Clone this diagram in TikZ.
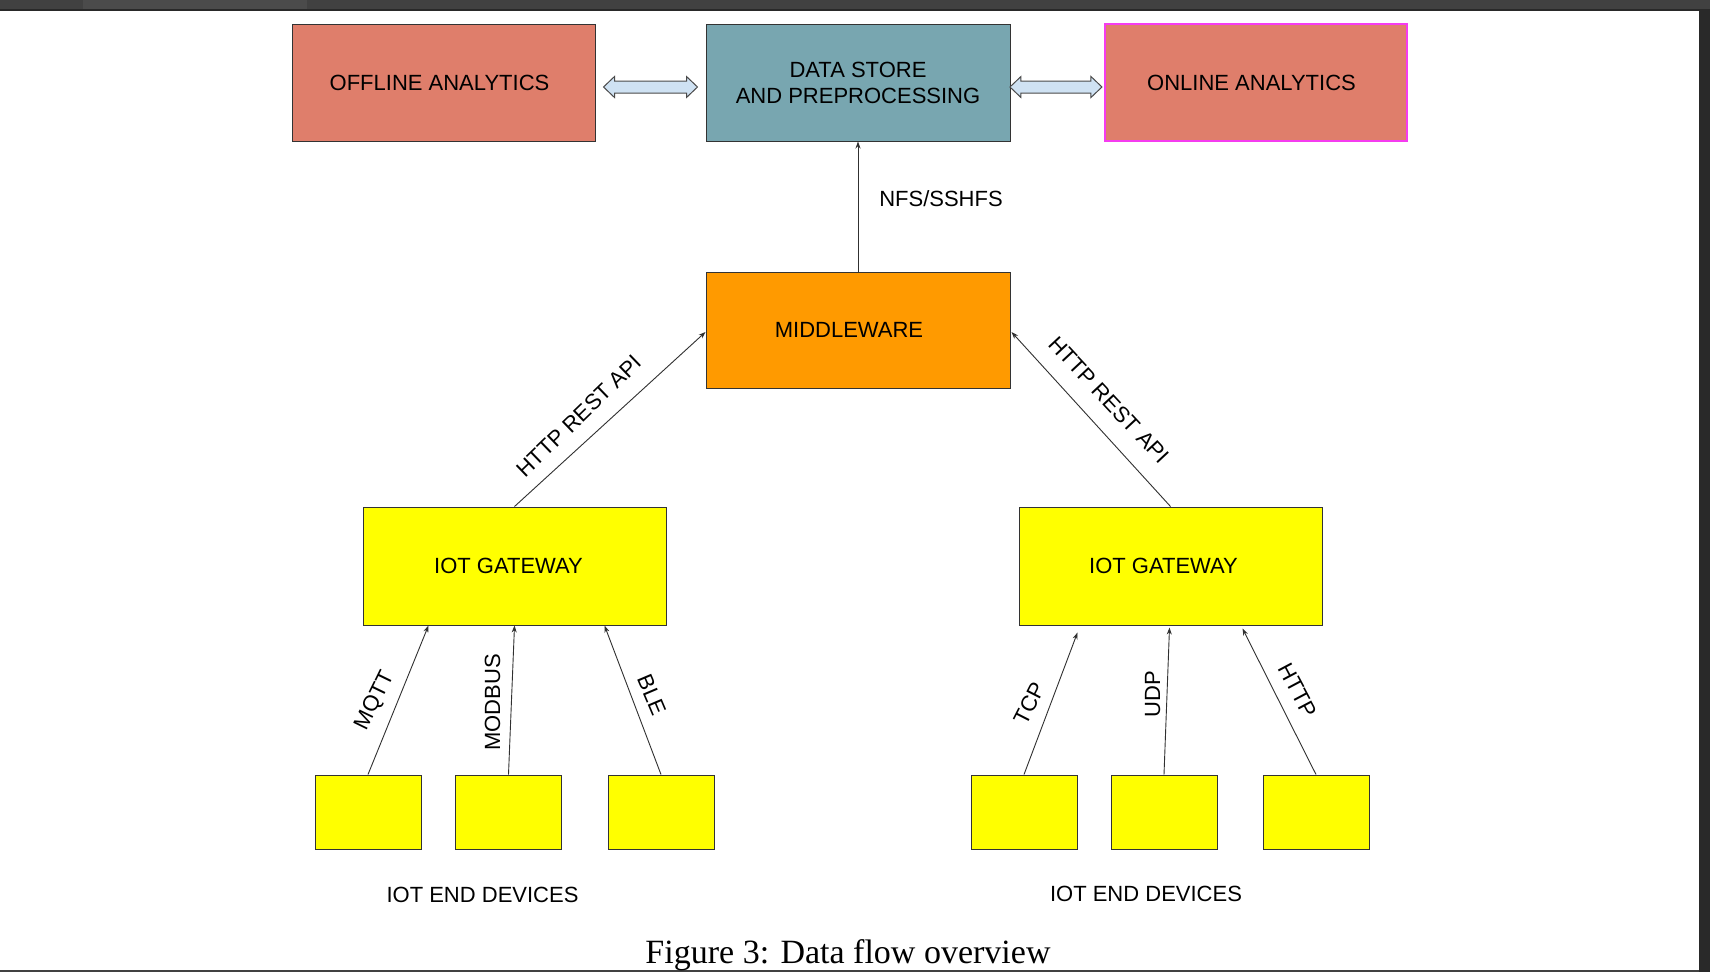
\documentclass[tikz,border=0pt]{standalone}
\usepackage{fontspec}
\setmainfont{Liberation Sans}
\newfontfamily\capfont{Liberation Serif}
\usetikzlibrary{arrows.meta,calc}
\definecolor{cSalmon}{HTML}{DF7E6B}
\definecolor{cStore}{HTML}{78A6B0}
\definecolor{cMid}{HTML}{FF9A00}
\definecolor{cYel}{HTML}{FFFF00}
\definecolor{cEdge}{HTML}{333333}
\definecolor{cMag}{HTML}{F53CF0}
\definecolor{cLine}{HTML}{303030}
\definecolor{cDbl}{HTML}{CFE2F3}
\definecolor{cDblEdge}{HTML}{4A4A4A}
\definecolor{cBand}{HTML}{414141}
\definecolor{cTab}{HTML}{4B4B4B}
\definecolor{cSide}{HTML}{292929}
\begin{document}
\begin{tikzpicture}[x=1pt,y=-1pt,
  box/.style={draw=cEdge, line width=1pt, minimum width=303pt, minimum height=117pt,
    inner sep=0pt, font=\fontsize{22}{26}\selectfont, align=center, text=black},
  dev/.style={draw=cEdge, line width=1pt, fill=cYel, minimum width=106pt, minimum height=74pt, inner sep=0pt},
  flow/.style={draw=cLine, line width=0.9pt, -{Stealth[length=7pt,width=5pt]}},
  lbl/.style={font=\fontsize{22}{26}\selectfont, inner sep=0pt, text=black},
  dbl/.style={draw=cDblEdge, fill=cDbl, line width=1pt, line join=miter}]
% page and frame
\fill[white] (0,0) rectangle (1710,972);
\useasboundingbox (0,0) rectangle (1710,972);
\fill[cBand] (0,0) rectangle (1710,9);
\fill[cTab] (83,0) rectangle (307,9);
\fill[cSide] (0,9) rectangle (1699,10.5);
\fill[cSide] (1699,9) rectangle (1710,972);
\fill[cBand] (0,969.5) rectangle (1699,972);
% top row
\node[box, fill=cSalmon] (off) at (443.5,82.5) {OFFLINE ANALYTICS\hspace*{8pt}};
\node[box, fill=cStore, minimum width=304pt] (ds) at (858,82.5) {DATA STORE\\AND PREPROCESSING};
\node[box, fill=cSalmon, draw=cMag, line width=1.2pt, minimum width=302pt] (on) at (1256,82.5) {ONLINE ANALYTICS\hspace*{9pt}};
% middleware
\node[box, fill=cMid, minimum width=304pt, minimum height=116pt] (mw) at (858,330) {MIDDLEWARE\hspace*{18pt}};
% gateways
\node[box, fill=cYel, minimum height=118pt] (gwl) at (514.5,566) {IOT GATEWAY\hspace*{12pt}};
\node[box, fill=cYel, minimum height=118pt] (gwr) at (1170.5,566) {IOT GATEWAY\hspace*{14pt}};
% end devices
\node[dev] (d1) at (368,812) {};
\node[dev] (d2) at (508.5,812) {};
\node[dev] (d3) at (661,812) {};
\node[dev] (d4) at (1024,812) {};
\node[dev] (d5) at (1164,812) {};
\node[dev] (d6) at (1316,812) {};
% double arrows
\coordinate (a1) at ($(off.east)!0.5!(ds.west)+(0,4.5)$);
\coordinate (a2) at ($(ds.east)!0.5!(on.west)+(-1.5,4.5)$);
\draw[dbl] ([xshift=-47pt]a1) -- ++(11,-10.5) -- ++(0,4.5) -- ++(72,0) -- ++(0,-4.5)
  -- ++(11,10.5) -- ++(-11,10.5) -- ++(0,-4.5) -- ++(-72,0) -- ++(0,4.5) -- cycle;
\draw[dbl] ([xshift=-46pt]a2) -- ++(11,-10.5) -- ++(0,4.5) -- ++(70,0) -- ++(0,-4.5)
  -- ++(11,10.5) -- ++(-11,10.5) -- ++(0,-4.5) -- ++(-70,0) -- ++(0,4.5) -- cycle;
% connectors
\draw[flow] (mw.north) -- (ds.south);
\draw[flow] (gwl.north) -- ($(mw.west)+(0,2)$);
\draw[flow] (gwr.north) -- ($(mw.east)+(1,2)$);
\draw[flow] (d1.north) -- ($(gwl.south west)+(66,0)$);
\draw[flow] (d2.north) -- ($(gwl.south west)+(152,0)$);
\draw[flow] (d3.north) -- ($(gwl.south west)+(242,0)$);
\draw[flow] (d4.north) -- ($(gwr.south west)+(59,7)$);
\draw[flow] (d5.north) -- ($(gwr.south west)+(151,2)$);
\draw[flow] (d6.north) -- ($(gwr.south west)+(224,3)$);
% labels
\node[lbl] (lnfs) at (941,199) {NFS/SSHFS};
\node[lbl, rotate=44] (lrl) at (579,416) {HTTP REST API};
\node[lbl, rotate=-47] (lrr) at (1109,400) {HTTP REST API};
\node[lbl, rotate=64] (lmqtt) at (375.3,700.7) {MQTT};
\node[lbl, rotate=90] (lmod) at (492.5,702.5) {MODBUS};
\node[lbl, rotate=-67] (lble) at (651.7,694.7) {BLE};
\node[lbl, rotate=63] (ltcp) at (1029.3,703.3) {TCP};
\node[lbl, rotate=90] (ludp) at (1152.7,694.3) {UDP};
\node[lbl, rotate=-62] (lhttp) at (1297.7,690.7) {HTTP};
\node[lbl] (ledl) at (482.5,895) {IOT END DEVICES};
\node[lbl] (ledr) at (1146,894) {IOT END DEVICES};
% caption
\node[font=\capfont\fontsize{34}{38}\selectfont, anchor=base, inner sep=0pt] (cap) at (848,963) {Figure 3: Data flow overview};
\end{tikzpicture}
\end{document}
